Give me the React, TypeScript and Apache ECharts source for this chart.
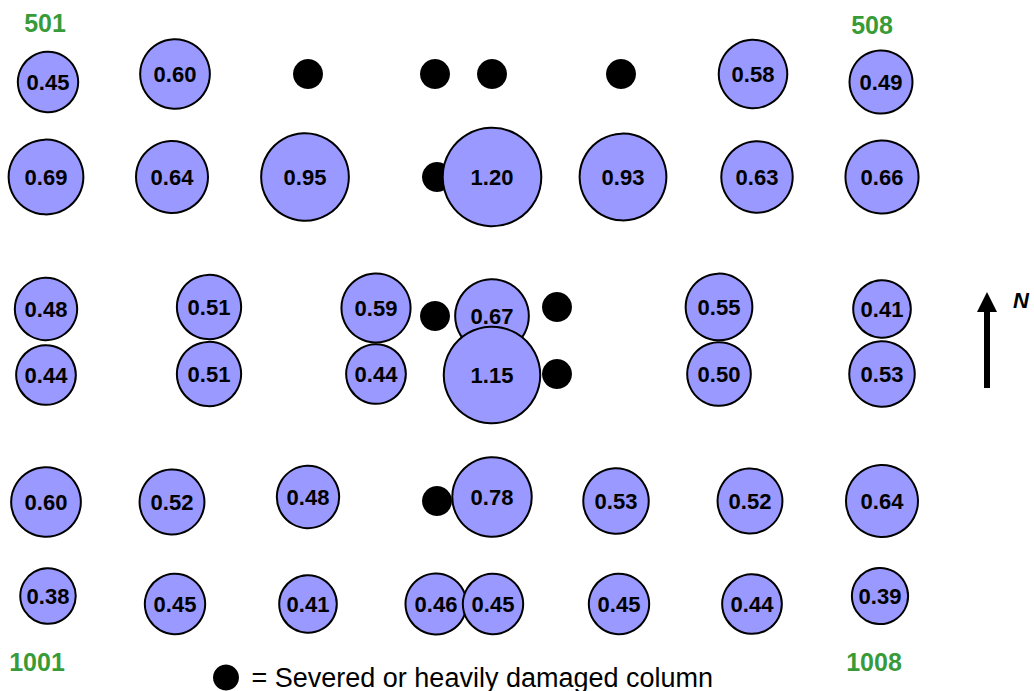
import React, { useEffect, useRef } from "react";
import * as echarts from "echarts";

// Column positions on the floor plan (plan units) and measured ratios
const ratioX = [48, 175, 753, 881, 46, 172, 305, 492, 623, 757, 882, 46, 209, 376, 492, 719, 882, 46, 209, 376, 492, 719, 882, 46, 172, 308, 492, 616, 750, 882, 48, 175, 308, 436, 493, 619, 752, 880];
const ratioY = [82, 74, 74, 82, 177, 177, 177, 177, 177, 177, 177, 309, 307, 308, 316, 307, 309, 375, 374, 374, 375, 374, 374, 502, 502, 497, 497, 501, 501, 501, 596, 604, 604, 604, 604, 604, 604, 596];
const ratioValues = [0.45, 0.60, 0.58, 0.49, 0.69, 0.64, 0.95, 1.20, 0.93, 0.63, 0.66, 0.48, 0.51, 0.59, 0.67, 0.55, 0.41, 0.44, 0.51, 0.44, 1.15, 0.50, 0.53, 0.60, 0.52, 0.48, 0.78, 0.53, 0.52, 0.64, 0.38, 0.45, 0.41, 0.46, 0.45, 0.45, 0.44, 0.39];

// Severed or heavily damaged columns
const damagedX = [308, 435, 492, 621, 437, 435, 557, 557, 437];
const damagedY = [74, 74, 74, 74, 177, 316, 307, 374, 501];

// Corner column labels
const cornerLabels = ["501", "508", "1001", "1008"];
const cornerX = [45, 872, 37, 874];
const cornerY = [23, 25, 662, 662];

const damagedName = "Severed or heavily damaged column";
const FONT = '"Liberation Sans", Arial, Helvetica, sans-serif';

export default function App() {
  const ref = useRef<HTMLDivElement>(null);
  useEffect(() => {
    document.body.style.margin = "0";
    const chart = echarts.init(ref.current!, null, { renderer: "svg" });
    const ratioData = ratioValues.map((v, i) => [ratioX[i], ratioY[i], v]);
    const damagedData = damagedX.map((x, i) => [x, damagedY[i]]);
    const cornerData = cornerLabels.map((n, i) => ({ name: n, value: [cornerX[i], cornerY[i]] }));
    chart.setOption({
      animation: false,
      backgroundColor: "#ffffff",
      grid: { left: 0, right: 0, top: 0, bottom: 0 },
      xAxis: { type: "value", min: 0, max: 1034, show: false },
      yAxis: { type: "value", min: 0, max: 691, inverse: true, show: false },
      legend: {
        data: [damagedName],
        left: 213,
        top: 664,
        padding: 0,
        icon: "circle",
        itemWidth: 26,
        itemHeight: 26,
        itemGap: 0,
        selectedMode: false,
        formatter: (n: string) => " = " + n,
        textStyle: { fontFamily: FONT, fontSize: 27, lineHeight: 27, color: "#000" },
      },
      series: [
        {
          type: "scatter",
          name: damagedName,
          data: damagedData,
          symbol: "circle",
          symbolSize: 30,
          itemStyle: { color: "#000000", opacity: 1 },
          z: 1,
        },
        {
          type: "scatter",
          name: "ratio",
          data: ratioData,
          symbol: "circle",
          symbolSize: (d: number[]) => 90 * Math.sqrt(d[2]),
          itemStyle: { color: "#9999ff", borderColor: "#000000", borderWidth: 2, opacity: 1 },
          label: {
            show: true,
            position: "inside",
            formatter: (p: any) => p.value[2].toFixed(2),
            fontFamily: FONT,
            fontWeight: "bold",
            fontSize: 22,
            color: "#000",
          },
          emphasis: { disabled: true },
          z: 2,
        },
        {
          type: "scatter",
          name: "corners",
          data: cornerData,
          symbolSize: 0,
          label: {
            show: true,
            position: "inside",
            formatter: (p: any) => p.name,
            fontFamily: FONT,
            fontWeight: "bold",
            fontSize: 25,
            color: "#008000",
          },
          z: 3,
        },
      ],
      graphic: [
        { type: "rect", shape: { x: 984, y: 308, width: 6, height: 80 }, style: { fill: "#000" } },
        { type: "polygon", shape: { points: [[987, 292], [977, 312], [997, 312]] }, style: { fill: "#000" } },
        {
          type: "text",
          x: 1021,
          y: 300,
          style: {
            text: "N",
            fill: "#000",
            font: `italic bold 22px ${FONT}`,
            align: "center",
            verticalAlign: "middle",
          },
        },
      ],
    });
    return () => chart.dispose();
  }, []);
  return <div ref={ref} style={{ width: 1034, height: 691 }} />;
}
